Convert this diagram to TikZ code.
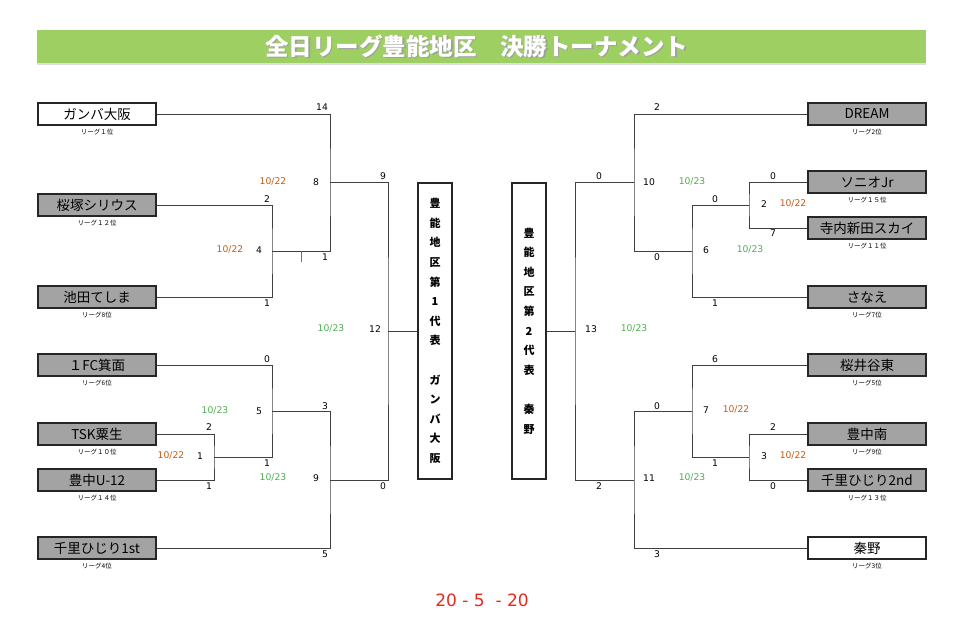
\documentclass[tikz,border=0pt]{standalone}
\usepackage{fontspec}
\setmainfont{DejaVu Sans}
\newfontfamily\jp{Noto Sans CJK JP}
\usetikzlibrary{positioning, calc}

\definecolor{titlegreen}{RGB}{158,207,98}
\definecolor{boxgray}{RGB}{163,163,163}
\definecolor{dateorange}{RGB}{197,90,17}
\definecolor{dategreen}{RGB}{76,175,80}
\definecolor{scorered}{RGB}{232,40,30}

\tikzset{
    team/.style={draw=black!85, line width=1.6pt, fill=boxgray, minimum width=118pt, minimum height=22pt, inner sep=0pt, font=\jp\fontsize{13.5}{14}\selectfont},
    seed/.style={inner sep=0pt, font=\jp\fontsize{6.5}{7}\selectfont},
    rep/.style={draw=black!85, line width=1.6pt, minimum width=34pt, minimum height=296pt, inner sep=0pt, align=center, font=\jp\bfseries\fontsize{11}{19.6}\selectfont},
    score/.style={inner sep=0pt, font=\fontsize{9.2}{10}\selectfont},
    date22/.style={score, text=dateorange},
    date23/.style={score, text=dategreen},
    link/.style={draw=black!75, line width=0.9pt}
}

\begin{document}
\begin{tikzpicture}[x=1pt, y=-1pt]
    \useasboundingbox (0,0) rectangle (972,636);

    % Title bar
    \fill[titlegreen] (37,30) rectangle (926,63);
    \fill[blue!8!gray!25] (37,63) rectangle (926,65.5);
    \node[text=gray!75, font=\jp\bfseries\fontsize{23.5}{24}\selectfont] (titleshadow) at (478,47.5) {全日リーグ豊能地区　決勝トーナメント};
    \node[text=white, font=\jp\bfseries\fontsize{23.5}{24}\selectfont] (title) at (476.5,46) {全日リーグ豊能地区　決勝トーナメント};

    % Teams, left side
    \node[team, fill=white] (gamba) at (97,114) {ガンバ大阪};
    \node[team] (sakurazuka) at (97,205) {桜塚シリウス};
    \node[team] (ikeda) at (97,297) {池田てしま};
    \node[team] (fcminoh) at (97,365) {１FC箕面};
    \node[team] (tsk) at (97,434) {TSK粟生};
    \node[team] (toyonakau) at (97,480) {豊中U-12};
    \node[team] (senri1) at (97,548) {千里ひじり1st};

    % Teams, right side
    \node[team] (dream) at (867,114) {DREAM};
    \node[team] (sonio) at (867,182) {ソニオJr};
    \node[team] (terauchi) at (867,228) {寺内新田スカイ};
    \node[team] (sanae) at (867,297) {さなえ};
    \node[team] (sakurai) at (867,365) {桜井谷東};
    \node[team] (toyonakam) at (867,434) {豊中南};
    \node[team] (senri2) at (867,480) {千里ひじり2nd};
    \node[team, fill=white] (hatano) at (867,548) {秦野};

    % League places
    \foreach \t/\s in {gamba/リーグ１位, sakurazuka/リーグ１２位, ikeda/リーグ8位, fcminoh/リーグ6位, tsk/リーグ１０位, toyonakau/リーグ１４位, senri1/リーグ4位, dream/リーグ2位, sonio/リーグ１５位, terauchi/リーグ１１位, sanae/リーグ7位, sakurai/リーグ5位, toyonakam/リーグ9位, senri2/リーグ１３位, hatano/リーグ3位}
        \node[seed, below=3pt of \t] (\t-seed) {\s};

    % Representatives
    \node[rep] (rep1) at (435,331) {豊\\能\\地\\区\\第\\1\\代\\表\\[19.6pt]ガ\\ン\\バ\\大\\阪};
    \node[rep] (rep2) at (529,331) {豊\\能\\地\\区\\第\\2\\代\\表\\[19.6pt]秦\\野};

    % Bracket joints
    \coordinate (L1) at (272,251);
    \coordinate (L2) at (330,182);
    \coordinate (L3) at (214,457);
    \coordinate (L4) at (272,411);
    \coordinate (L5) at (330,480);
    \coordinate (L6) at (388,331);
    \coordinate (R1) at (749,205);
    \coordinate (R2) at (692,251);
    \coordinate (R3) at (634,182);
    \coordinate (R4) at (749,457);
    \coordinate (R5) at (692,411);
    \coordinate (R6) at (634,480);
    \coordinate (R7) at (575,331);

    % Left bracket
    \draw[link] (sakurazuka.east) -| (L1) |- (ikeda.east);
    \draw[link] (gamba.east) -| (L2) |- (L1);
    \draw[link] (tsk.east) -| (L3) |- (toyonakau.east);
    \draw[link] (fcminoh.east) -| (L4) |- (L3);
    \draw[link] (L4) -| (L5) |- (senri1.east);
    \draw[link] (L2) -| (L6) |- (L5);
    \draw[link] (L6) -- (rep1.west);
    \draw[red!80, line width=0.6pt] ($(L1)!0.5!(L1 -| L2)$) -- ++(0,11);

    % Right bracket
    \draw[link] (sonio.west) -| (R1) |- (terauchi.west);
    \draw[link] (sanae.west) -| (R2) |- (R1);
    \draw[link] (dream.west) -| (R3) |- (R2);
    \draw[link] (toyonakam.west) -| (R4) |- (senri2.west);
    \draw[link] (sakurai.west) -| (R5) |- (R4);
    \draw[link] (R5) -| (R6) |- (hatano.west);
    \draw[link] (R3) -| (R7) |- (R6);
    \draw[link] (R7) -- (rep2.east);

    % Scores
    \foreach \x/\y/\s [count=\i] in {322/107/14, 316/182/8, 267/199/2, 259/250/4, 325/257/1, 267/303/1, 383/176/9, 375/329/12, 267/359/0, 259/411/5, 325/406/3, 209/427/2, 200/456/1, 267/463/1, 209/486/1, 316/478/9, 383/486/0, 325/554/5}
        \node[score] (sl\i) at (\x,\y) {\s};
    \foreach \x/\y/\s [count=\i] in {657/107/2, 599/176/0, 649/182/10, 773/176/0, 715/199/0, 764/204/2, 773/233/7, 657/257/0, 706/250/6, 715/303/1, 591/329/13, 715/359/6, 657/406/0, 706/410/7, 773/427/2, 764/456/3, 715/463/1, 773/486/0, 599/486/2, 649/478/11, 657/554/3}
        \node[score] (sr\i) at (\x,\y) {\s};

    % Match dates
    \foreach \x/\y [count=\i] in {273/182, 230/250, 171/456, 793/204, 736/410, 793/456}
        \node[date22] (da\i) at (\x,\y) {10/22};
    \foreach \x/\y [count=\i] in {331/329, 215/411, 273/478, 692/182, 750/250, 634/329, 692/478}
        \node[date23] (db\i) at (\x,\y) {10/23};

    % Final
    \node[text=scorered, font=\fontsize{17}{18}\selectfont] (final) at (482,600) {20 - 5 \ - 20};
\end{tikzpicture}
\end{document}
